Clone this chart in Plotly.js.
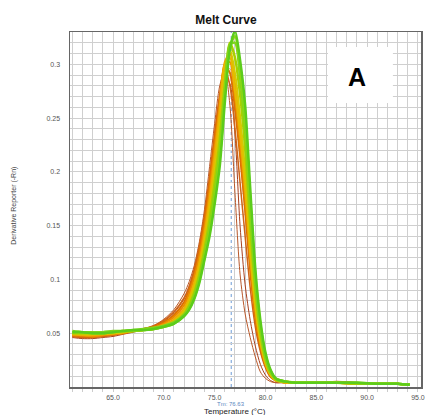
<!DOCTYPE html>
<html><head><meta charset="utf-8">
<script src="https://cdn.plot.ly/plotly-3.0.1.min.js"></script>
<style>html,body{margin:0;padding:0;background:#fff}#c{width:432px;height:415px}</style>
</head><body><div id="c"></div>
<script>
// Temperature samples (°C)
const temps = [61,62,63,64,65,66,67,68,69,70,71,72,72.5,73,73.5,74,74.5,75,75.5,76,76.5,77,77.5,78,78.5,79,79.5,80,80.5,81,81.5,82,83,85,87,89,91,93,94.2];

// Derivative reporter (-Rn) per well
const wellRedBrown = [.046,.045,.045,.046,.047,.049,.051,.053,.056,.061,.069,.082,.093,.108,.128,.156,.190,.228,.262,.288,.282,.235,.150,.095,.062,.038,.021,.011,.006,.004,.004,.004,.004,.004,.005,.004,.003,.003,.002];
const wellBrown = [.047,.046,.046,.047,.048,.050,.052,.054,.057,.063,.072,.087,.098,.113,.135,.165,.205,.245,.280,.294,.262,.180,.105,.068,.046,.028,.014,.008,.005,.004,.004,.004,.004,.004,.005,.004,.004,.003,.003];
const wellOrangeBrown = [.047,.046,.046,.047,.048,.050,.052,.054,.057,.062,.070,.083,.094,.110,.132,.160,.196,.236,.272,.296,.280,.240,.190,.140,.092,.056,.033,.018,.009,.006,.005,.004,.004,.004,.005,.004,.003,.003,.002];
const wellTan = [.048,.047,.047,.048,.049,.050,.052,.054,.056,.060,.066,.078,.089,.104,.124,.152,.186,.225,.262,.292,.296,.262,.215,.160,.110,.068,.040,.022,.011,.006,.005,.004,.004,.004,.004,.003,.003,.003,.002];
const wellDarkOrange = [.048,.047,.047,.048,.049,.050,.052,.054,.056,.060,.067,.079,.090,.105,.126,.154,.190,.230,.268,.298,.292,.258,.215,.165,.108,.064,.037,.020,.010,.006,.005,.004,.004,.004,.004,.003,.003,.003,.002];
const wellOrange1 = [.048,.048,.047,.048,.049,.050,.052,.053,.055,.059,.065,.076,.087,.102,.122,.148,.182,.222,.262,.300,.302,.270,.228,.178,.118,.070,.040,.021,.011,.006,.005,.004,.004,.004,.004,.003,.003,.003,.002];
const wellOrange2 = [.049,.048,.048,.049,.050,.051,.052,.053,.055,.058,.063,.073,.083,.097,.116,.142,.175,.215,.258,.302,.310,.282,.240,.190,.128,.076,.043,.023,.012,.007,.005,.004,.004,.004,.004,.003,.003,.003,.002];
const wellYellow1 = [.049,.049,.049,.049,.050,.051,.052,.053,.054,.057,.062,.072,.082,.096,.115,.140,.172,.210,.252,.300,.306,.275,.236,.185,.124,.074,.042,.022,.011,.006,.005,.004,.004,.004,.004,.003,.003,.003,.002];
const wellYellow2 = [.050,.049,.049,.050,.050,.051,.052,.053,.054,.057,.061,.070,.079,.092,.110,.134,.163,.200,.240,.290,.314,.292,.252,.200,.135,.080,.045,.024,.012,.007,.005,.005,.004,.004,.004,.003,.003,.003,.002];
const wellYellowGreen = [.050,.050,.050,.050,.051,.052,.052,.053,.054,.056,.060,.068,.076,.088,.105,.128,.156,.190,.230,.282,.320,.306,.272,.222,.150,.090,.050,.026,.013,.007,.005,.005,.004,.004,.004,.003,.003,.003,.002];
const wellGreen1 = [.052,.051,.051,.051,.052,.052,.053,.054,.055,.057,.060,.067,.074,.085,.101,.123,.148,.180,.218,.274,.318,.320,.288,.240,.165,.098,.055,.028,.014,.008,.006,.005,.004,.004,.004,.004,.003,.003,.002];
const wellLime = [.051,.051,.050,.050,.051,.052,.052,.053,.054,.056,.059,.066,.073,.083,.099,.120,.144,.175,.212,.270,.316,.326,.295,.250,.175,.104,.058,.030,.015,.008,.006,.005,.004,.004,.004,.004,.003,.003,.002];
const wellGreen2 = [.051,.051,.050,.050,.051,.052,.053,.053,.054,.056,.059,.066,.072,.082,.097,.118,.140,.170,.205,.264,.314,.331,.304,.262,.185,.110,.062,.032,.016,.008,.006,.005,.004,.004,.004,.004,.003,.003,.002];

const wells = [wellRedBrown, wellBrown, wellOrangeBrown, wellTan, wellDarkOrange, wellOrange1, wellOrange2, wellYellow1, wellYellow2, wellYellowGreen, wellGreen1, wellLime, wellGreen2];
const wellColors = ['#a8401e','#b9582a','#cf6418','#e0a060','#de7000','#ec8c00','#f0a400','#e8b800','#d8c800','#a8d000','#7ed321','#8ed810','#5ccc1c'];
const wellWidths = [1,1,1.5,1,2,2,2,2,2,2.5,2.5,2.5,2.5];

const xTicks = [65,70,75,80,85,90,95];
const xTickText = ['65.0','70.0','75.0','80.0','85.0','90.0','95.0'];
const yTicks = [0.05,0.1,0.15,0.2,0.25,0.3];
const yTickText = ['0.05','0.1','0.15','0.2','0.25','0.3'];
const tm = 76.63;

const traces = wells.map((w,i)=>({
  x: temps, y: w, type:'scatter', mode:'lines',
  line:{color:wellColors[i], width:wellWidths[i], shape:'spline', smoothing:0.8},
  hoverinfo:'skip', showlegend:false
}));

const gridC = '#cfcfcf';
const layout = {
  width:432, height:415,
  margin:{l:70, r:11, t:32, b:28},
  paper_bgcolor:'#fff', plot_bgcolor:'#fff',
  font:{family:'Liberation Sans, Arial, sans-serif', color:'#555', size:7},
  title:{text:'<b>Melt Curve</b>', font:{size:12, color:'#111', family:'Liberation Sans, Arial, sans-serif'}, x:0.523, xanchor:'center', y:0.953, yanchor:'middle'},
  xaxis:{range:[60.77,95.3], tickvals:xTicks, ticktext:xTickText, showgrid:true, gridcolor:gridC, gridwidth:1,
    minor:{dtick:1, tick0:61, showgrid:true, gridcolor:gridC, gridwidth:1, ticks:'outside', ticklen:3, tickcolor:'#ccc'},
    ticks:'', showline:true, linecolor:'#666', linewidth:1.5, mirror:true, zeroline:false,
    tickfont:{size:7, color:'#555'}, ticklabelstandoff:3},
  yaxis:{range:[0,0.33], tickvals:yTicks, ticktext:yTickText, showgrid:true, gridcolor:gridC, gridwidth:1,
    minor:{dtick:0.01, tick0:0, showgrid:true, gridcolor:gridC, gridwidth:1},
    ticks:'', showline:true, linecolor:'#666', linewidth:1.5, mirror:true, zeroline:false,
    tickfont:{size:7, color:'#555'}, ticklabelstandoff:7},
  shapes:[
    {type:'line', xref:'x', yref:'paper', x0:tm, x1:tm, y0:0, y1:1, layer:'between', line:{color:'#6d9bd6', width:1, dash:'dot'}},
    {type:'rect', xref:'paper', yref:'paper', x0:0.735, x1:0.920, y0:0.800, y1:0.958, layer:'above', fillcolor:'#fff', line:{width:0}}
  ],
  annotations:[
    {text:'<b>A</b>', xref:'paper', yref:'paper', x:0.818, y:0.873, xanchor:'center', yanchor:'middle', showarrow:false, font:{size:25, color:'#000', family:'Liberation Sans, Arial, sans-serif'}},
    {text:'Tm: 76.63', xref:'x', yref:'paper', x:tm, y:-0.048, xanchor:'center', yanchor:'middle', showarrow:false, font:{size:6, color:'#5a86c0'}},
    {text:'Temperature (°C)', xref:'paper', yref:'paper', x:0.47, y:-0.070, xanchor:'center', yanchor:'middle', showarrow:false, font:{size:8, color:'#222'}},
    {text:'Derivative Reporter (-Rn)', xref:'paper', yref:'paper', x:-0.16, y:0.51, xanchor:'center', yanchor:'middle', textangle:-90, showarrow:false, font:{size:7, color:'#444'}}
  ]
};
Plotly.newPlot('c', traces, layout, {staticPlot:true, displayModeBar:false});
</script></body></html>
